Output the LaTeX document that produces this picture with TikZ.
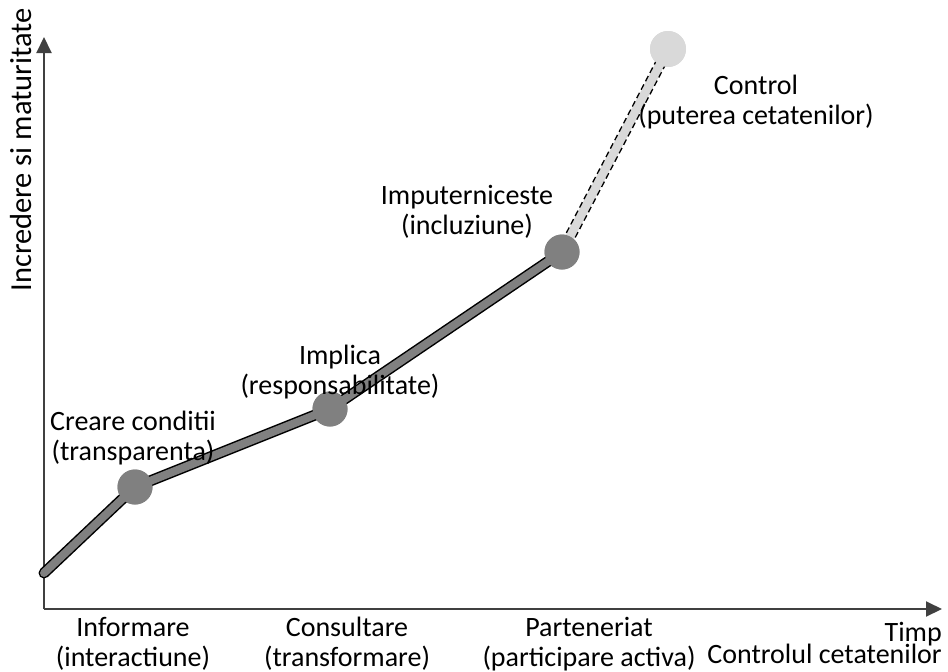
\documentclass[tikz,border=0pt]{standalone}
\usepackage{fontspec}
\setmainfont{Carlito}
\usetikzlibrary{arrows.meta,calc}
\definecolor{axisgray}{HTML}{404040}
\definecolor{dotgray}{HTML}{808080}
\definecolor{palegray}{HTML}{D9D9D9}
\begin{document}
\begin{tikzpicture}[x=1pt,y=-1pt,
  lbl/.style={font=\fontsize{28}{30}\selectfont, align=center, inner sep=0pt, anchor=base},
  axisline/.style={draw=axisgray, line width=2pt, -{Triangle[length=16pt,width=15pt]}},
  dot/.style={circle, fill=dotgray, minimum size=35pt, inner sep=0pt},
  futuredot/.style={circle, fill=palegray, minimum size=36pt, inner sep=0pt},
  path/.style={line width=1.5pt, double=dotgray, double distance=8pt, line cap=round, line join=round},
  futurefill/.style={draw=palegray, line width=9pt},
  futureedge/.style={draw=black, line width=1.3pt, dash pattern=on 6pt off 3.5pt}]
\useasboundingbox (0,0) rectangle (948,672);

% axes
\coordinate (O) at (44,609);
\coordinate (ytop) at (44,37);
\coordinate (xend) at (942,609);
\draw[axisline] (O) -- (ytop);
\draw[axisline] (O) -- (xend);

% stage points
\coordinate (s) at (44,573);
\node[dot] (c1) at (135,487) {};
\node[dot] (c2) at (330,409) {};
\node[dot] (c3) at (562,252) {};
\node[futuredot] (c4) at (668,49) {};

% projected stage (dashed band)
\draw[futurefill] (c3.center) -- (c4.center);
\draw[futureedge] ($(c3.center)!5pt!90:(c4.center)$) -- ($(c4.center)!5pt!-90:(c3.center)$);
\draw[futureedge] ($(c3.center)!5pt!-90:(c4.center)$) -- ($(c4.center)!5pt!90:(c3.center)$);
\node[futuredot] at (c4) {};

% realised path
\draw[path] (s) -- (c1.center) -- (c2.center) -- (c3.center);
\node[dot] at (c1) {};
\node[dot] at (c2) {};
\node[dot] at (c3) {};

% stage labels (anchored on the baseline of the last line)
\node[lbl] (l1) at (133,460) {Creare conditii\\(transparenta)};
\node[lbl] (l2) at (340,394) {Implica\\(responsabilitate)};
\node[lbl] (l3) at (467,234) {Imputerniceste\\(incluziune)};
\node[lbl] (l4) at (756,124) {Control\\(puterea cetatenilor)};

% axis labels
\node[lbl] (b1) at (133,666) {Informare\\(interactiune)};
\node[lbl] (b2) at (347,666) {Consultare\\(transformare)};
\node[lbl] (b3) at (589,666) {Parteneriat\\(participare activa)};
\node[lbl, anchor=base east] (tx) at (942,641) {Timp};
\node[lbl, anchor=base east] (tc) at (942,663) {Controlul cetatenilor};
\node[lbl, font=\fontsize{30.5}{32}\selectfont, anchor=center, rotate=90] (ty) at (21,150) {Incredere si maturitate};
\end{tikzpicture}
\end{document}
